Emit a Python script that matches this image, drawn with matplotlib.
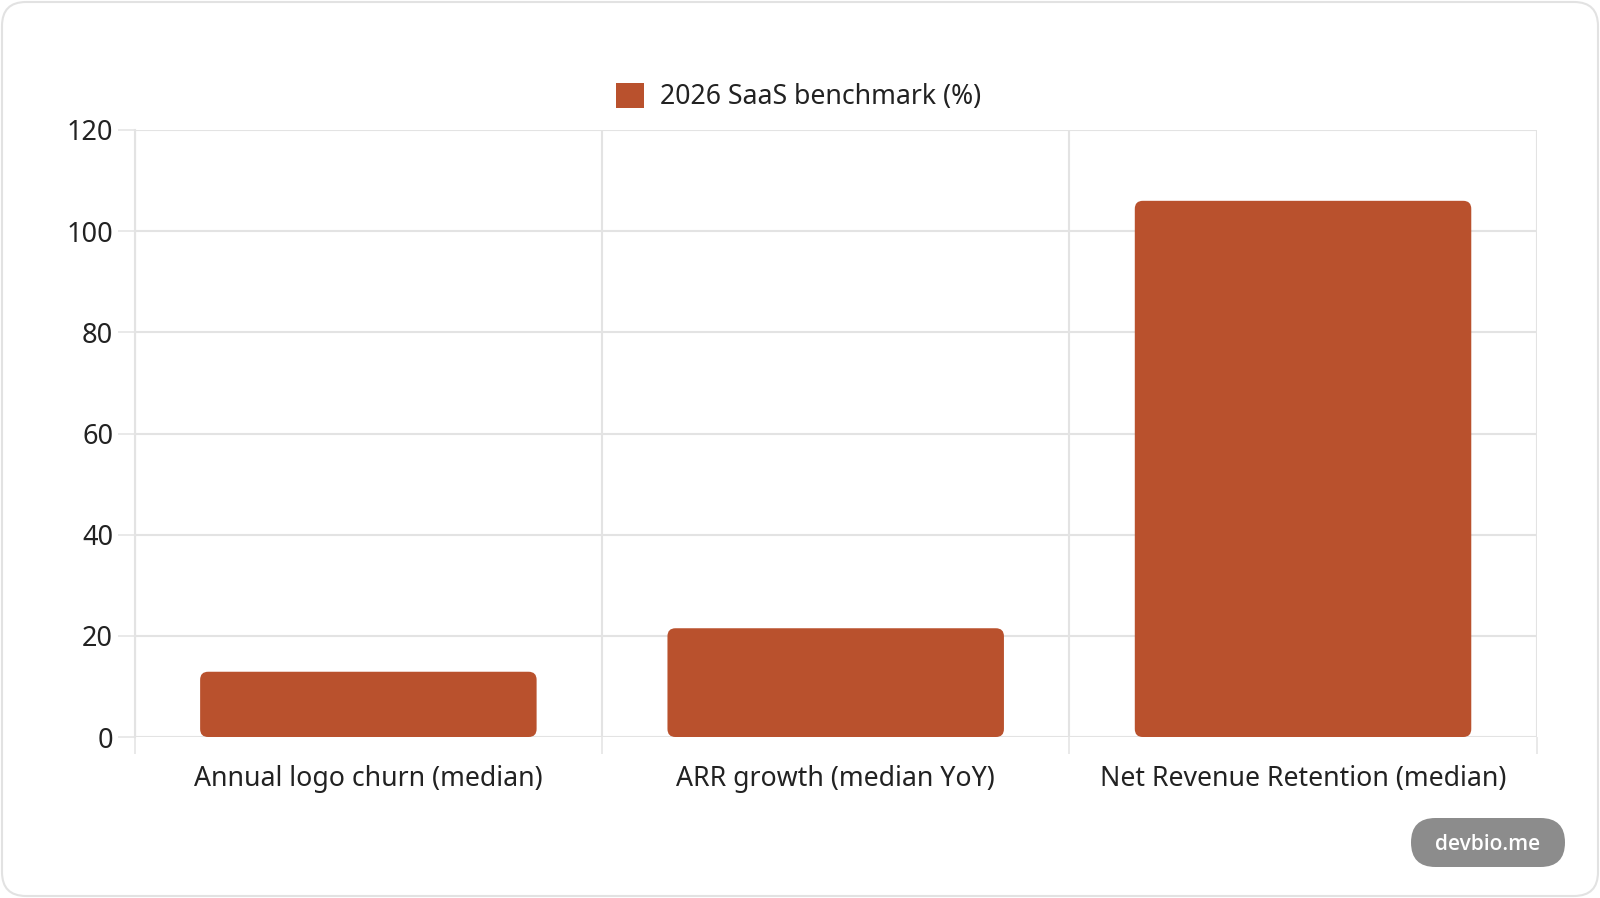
import matplotlib
matplotlib.use("Agg")
import matplotlib.pyplot as plt
from matplotlib.patches import FancyBboxPatch, Patch
from matplotlib.ticker import FixedLocator

# ---- data ----
categories = ["Annual logo churn (median)", "ARR growth (median YoY)", "Net Revenue Retention (median)"]
values = [12.9, 21.5, 106]
series_label = "2026 SaaS benchmark (%)"
y_ticks = [0, 20, 40, 60, 80, 100, 120]

BAR_COLOR = "#b9512d"
GRID = "#e3e3e3"
TEXT = "#222222"
W, H = 1600, 898

plt.rcParams['font.family'] = ['Noto Sans', 'DejaVu Sans']

fig = plt.figure(figsize=(W / 100, H / 100), dpi=100)
fig.patch.set_facecolor("white")

# background layer in pixel coordinates (card + watermark)
bg = fig.add_axes([0, 0, 1, 1], zorder=-5)
bg.set_xlim(0, W)
bg.set_ylim(H, 0)
bg.axis("off")
bg.add_patch(FancyBboxPatch((2, 2), W - 4, H - 4,
                            boxstyle="round,pad=0,rounding_size=24",
                            facecolor="white", edgecolor="#e2e2e2", linewidth=1.5))

# main axes
left, right = 134.7 / W, 1536.7 / W
top, bottom = 1 - 130 / H, 1 - 737 / H
ax = fig.add_axes([left, bottom, right - left, top - bottom])
ax.set_facecolor("none")

x = list(range(len(categories)))
ax.set_xlim(-0.5, len(categories) - 0.5)
ax.set_ylim(0, 120)

bars = ax.bar(x, values, width=0.72, color=BAR_COLOR)

# convert bars to rounded rectangles
fig.canvas.draw()
ax_w_px = ax.get_window_extent().width
ax_h_px = ax.get_window_extent().height
x_per_px = (len(categories)) / ax_w_px
y_per_px = 120 / ax_h_px
radius_px = 8
for b in bars:
    bx, by = b.get_x(), b.get_y()
    bw, bh = b.get_width(), b.get_height()
    b.set_visible(False)
    p = FancyBboxPatch((bx, by), bw, bh,
                       boxstyle=f"round,pad=0,rounding_size={radius_px * x_per_px}",
                       mutation_aspect=y_per_px / x_per_px,
                       facecolor=BAR_COLOR, edgecolor="none", zorder=3)
    ax.add_patch(p)

# y axis
ax.set_yticks(y_ticks)
ax.set_yticklabels([str(t) for t in y_ticks])
ax.yaxis.grid(True, color=GRID, linewidth=1.5, zorder=0)
ax.tick_params(axis="y", length=12.5, width=1.1, color=GRID, pad=3,
               labelsize=19.5, labelcolor=TEXT)

# x axis: labels at centres, grid/ticks at category boundaries
ax.set_xticks(x)
ax.set_xticklabels(categories)
ax.tick_params(axis="x", which="major", length=0, pad=20, labelsize=19.2, labelcolor=TEXT)
ax.xaxis.set_minor_locator(FixedLocator([i - 0.5 for i in range(len(categories) + 1)]))
ax.tick_params(axis="x", which="minor", length=12.5, width=1.1, color=GRID)
ax.xaxis.grid(True, which="minor", color=GRID, linewidth=1.5, zorder=0)
ax.set_axisbelow(True)

for s in ["top", "right", "bottom"]:
    ax.spines[s].set_visible(False)
ax.spines["left"].set_color(GRID)
ax.spines["left"].set_linewidth(1.5)

# legend
handle = Patch(facecolor=BAR_COLOR, edgecolor="none")
fig.legend([handle], [series_label], loc="center",
           bbox_to_anchor=(799 / W, 1 - 97 / H), frameon=False,
           fontsize=19.2, labelcolor=TEXT, handlelength=1.05, handleheight=1.05,
           handletextpad=0.6)

# watermark pill
bg.add_patch(FancyBboxPatch((1411, 818), 154, 49,
                            boxstyle="round,pad=0,rounding_size=24.5",
                            facecolor="#8c8c8c", edgecolor="none"))
bg.text(1488, 844, "devbio.me", color="white", fontsize=15, fontweight="semibold",
        family=["Open Sans", "DejaVu Sans"], ha="center", va="center")

fig.savefig("out.png", dpi=100)
